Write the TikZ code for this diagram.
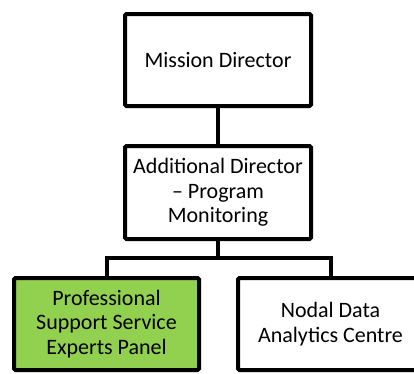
\documentclass[tikz,border=0pt]{standalone}
\usepackage{fontspec}
\setmainfont{Carlito}
\definecolor{orggreen}{RGB}{146, 208, 80}
\tikzset{post/.style={draw, line width=4pt, rounded corners=1.5pt, fill=white, align=center,
        font=\fontsize{22}{24.5}\selectfont, inner sep=0pt}}
\tikzset{link/.style={line width=4pt, line join=miter, color=black}}

\begin{document}
\begin{tikzpicture}[x=1pt, y=-1pt]%{{{
        \useasboundingbox (0, 0) rectangle (414, 373);
        \clip (0, 0) rectangle (414, 373);
        \node[post, minimum width=186pt, minimum height=92pt] (Nmd) at (218, 60)
        {Mission Director};
        \node[post, minimum width=186pt, minimum height=93pt] (Nad) at (218, 192.5)
        {Additional Director\\– Program\\Monitoring};
        \node[post, fill=orggreen, minimum width=185pt, minimum height=92pt] (Nps) at (106.5, 324)
        {Professional\\Support Service\\Experts Panel};
        \node[post, minimum width=185pt, minimum height=92pt] (Nnd) at (330.5, 324)
        {Nodal Data\\Analytics Centre};
        \coordinate (Fk) at (218, 258);

        \draw [link] (Nmd) -- (Nad);
        \draw [link] (Nad) -- (Fk);
        \draw [link] (Fk) -| (Nps);
        \draw [link] (Fk) -| (Nnd);
    \end{tikzpicture}
\end{document}
